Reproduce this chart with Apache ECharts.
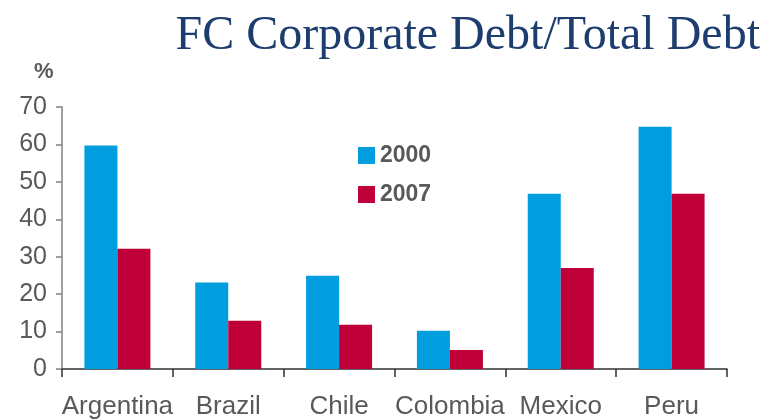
<!DOCTYPE html>
<html>
<head>
<meta charset="utf-8">
<script src="https://cdn.jsdelivr.net/npm/echarts@6/dist/echarts.min.js"></script>
<style>html,body{margin:0;padding:0;background:#fff}#c{width:778px;height:420px}</style>
</head>
<body>
<div id="c"></div>
<script>
const categories = ['Argentina', 'Brazil', 'Chile', 'Colombia', 'Mexico', 'Peru'];
const seriesNames = ['2000', '2007'];
const values2000 = [59.7, 23.1, 24.9, 10.2, 46.8, 64.7];
const values2007 = [32.1, 12.9, 11.8, 5.1, 27.0, 46.8];
const yTicks = [0, 10, 20, 30, 40, 50, 60, 70];

const chart = echarts.init(document.getElementById('c'));
chart.setOption({
  animation: false,
  backgroundColor: '#ffffff',
  title: {
    text: 'FC Corporate Debt/Total Debt',
    right: 13, top: 7,
    textStyle: { fontFamily: 'Liberation Serif', fontWeight: 'normal', fontSize: 48, color: '#1D3D6E' }
  },
  graphic: [{
    type: 'text', left: 34, top: 61,
    style: { text: '%', fontFamily: 'Liberation Sans', fontWeight: 'bold', fontSize: 22, fill: '#595959' }
  }],
  legend: {
    data: seriesNames,
    orient: 'vertical',
    left: 358, top: 144,
    itemWidth: 17, itemHeight: 17, itemGap: 16,
    icon: 'rect',
    padding: 0,
    textStyle: { fontFamily: 'Liberation Sans', fontWeight: 'bold', fontSize: 23, color: '#595959', lineHeight: 17 }
  },
  grid: { left: 62, right: 51, top: 107, bottom: 51, containLabel: false },
  xAxis: {
    type: 'category',
    data: categories,
    axisLine: { lineStyle: { color: '#303030', width: 1.5 } },
    axisTick: { show: true, length: 8, alignWithLabel: false, lineStyle: { color: '#303030', width: 1.5 } },
    axisLabel: { interval: 0, margin: 25, fontFamily: 'Liberation Sans', fontSize: 26, color: '#595959' }
  },
  yAxis: {
    type: 'value',
    min: yTicks[0], max: yTicks[yTicks.length - 1], interval: 10,
    splitLine: { show: false },
    axisLine: { show: true, lineStyle: { color: '#808080', width: 1.5 } },
    axisTick: { show: true, length: 6, inside: false, lineStyle: { color: '#808080', width: 1.5 } },
    axisLabel: { margin: 15, fontFamily: 'Liberation Sans', fontSize: 25, color: '#595959' }
  },
  series: [
    { name: seriesNames[0], type: 'bar', data: values2000, barWidth: 33, barGap: '0%', itemStyle: { color: '#009EDF' } },
    { name: seriesNames[1], type: 'bar', data: values2007, barWidth: 33, barGap: '0%', itemStyle: { color: '#C00038' } }
  ]
});
</script>
</body>
</html>
